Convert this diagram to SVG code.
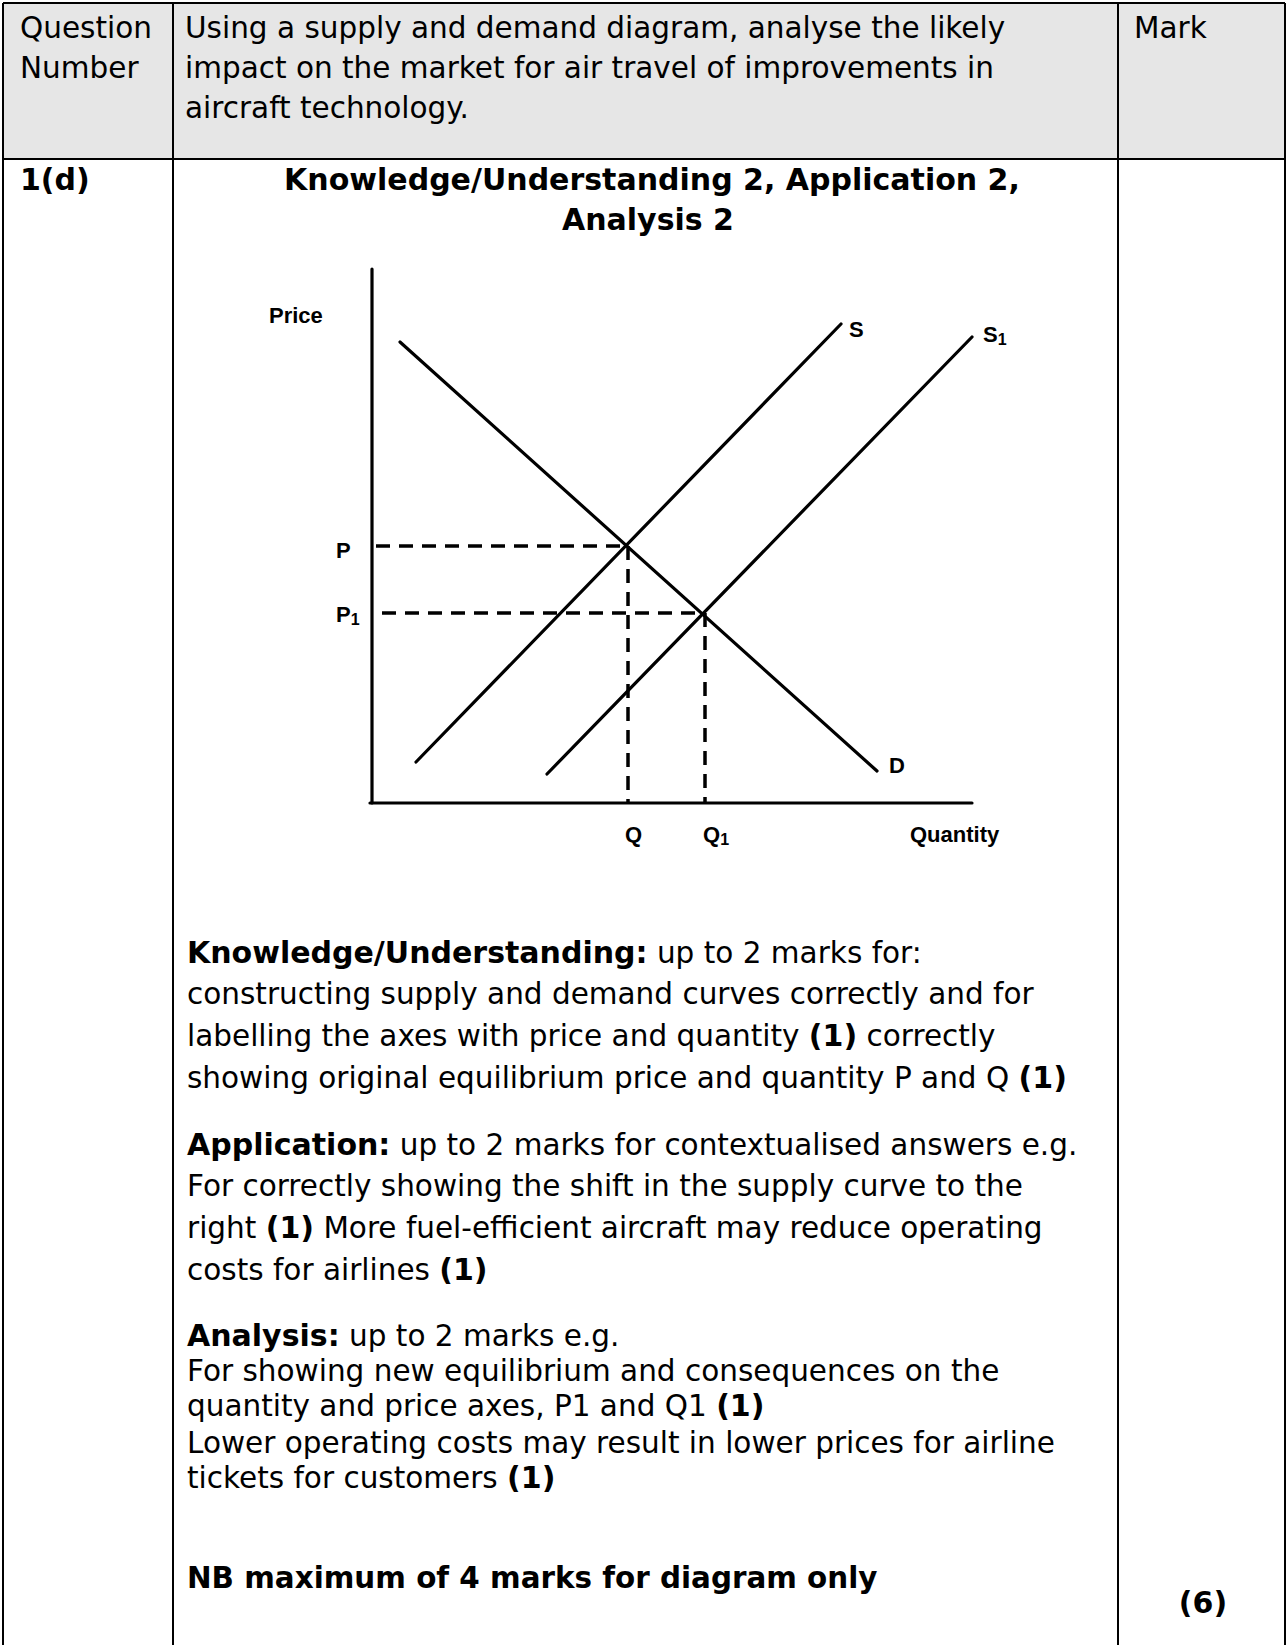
<svg xmlns="http://www.w3.org/2000/svg" width="1287" height="1645" viewBox="0 0 1287 1645">
<style>
.t{font-family:"DejaVu Sans",Verdana,sans-serif;font-size:29.5px;fill:#000}
.b{font-weight:bold;font-size:30px}
.nb{font-weight:bold;font-size:29.4px}
.g{font-family:"Liberation Sans",Arial,sans-serif;font-weight:bold;font-size:22px;fill:#000}
.sub{font-size:16px}
.rule{stroke:#000;stroke-width:2;fill:none}
.curve{stroke:#000;stroke-width:3.2;fill:none;stroke-linecap:round}
.dash{stroke:#000;stroke-width:3.5;fill:none;stroke-dasharray:14 9}
</style>
<rect width="1287" height="1645" fill="#fff"/>
<g id="table">
<rect x="3" y="3" width="1282" height="156" fill="#e6e6e6"/>
<line class="rule" x1="3" y1="3" x2="1285" y2="3"/>
<line class="rule" x1="3" y1="159" x2="1285" y2="159"/>
<line class="rule" x1="3" y1="3" x2="3" y2="1645"/>
<line class="rule" x1="173" y1="3" x2="173" y2="1645"/>
<line class="rule" x1="1118" y1="3" x2="1118" y2="1645"/>
<line class="rule" x1="1285" y1="3" x2="1285" y2="1645"/>
</g>
<g id="header">
<text class="t" x="20" y="38">Question</text>
<text class="t" x="20" y="78">Number</text>
<text class="t" x="185" y="38">Using a supply and demand diagram, analyse the likely</text>
<text class="t" x="185" y="78">impact on the market for air travel of improvements in</text>
<text class="t" x="185" y="118">aircraft technology.</text>
<text class="t" x="1134" y="38">Mark</text>
</g>
<g id="row">
<text class="t b" x="20" y="190">1(d)</text>
<text class="t b" x="652" y="190" text-anchor="middle">Knowledge/Understanding 2, Application 2,</text>
<text class="t b" x="648" y="230" text-anchor="middle">Analysis 2</text>
<text class="t b" x="1203" y="1613" text-anchor="middle">(6)</text>
</g>
<g id="chart">
<g id="axes">
<line class="curve" x1="372" y1="269" x2="372" y2="803" stroke-linecap="butt"/>
<line class="curve" x1="370" y1="803" x2="972" y2="803" stroke-linecap="butt"/>
</g>
<g id="connectors">
<line id="demand" class="curve" x1="400" y1="342" x2="877" y2="771"/>
<line id="supply-s" class="curve" x1="416" y1="762" x2="841" y2="324"/>
<line id="supply-s1" class="curve" x1="547" y1="774" x2="972" y2="337"/>
<line class="dash" x1="376" y1="546" x2="627" y2="546"/>
<line class="dash" x1="382" y1="613" x2="703" y2="613"/>
<line class="dash" x1="628" y1="546" x2="628" y2="803"/>
<line class="dash" x1="705" y1="613" x2="705" y2="803"/>
</g>
<g id="labels">
<text class="g" x="269" y="323">Price</text>
<text class="g" x="336" y="558">P</text>
<text class="g" x="336" y="622">P<tspan class="sub" dy="3">1</tspan></text>
<text class="g" x="849" y="337">S</text>
<text class="g" x="983" y="342">S<tspan class="sub" dy="3">1</tspan></text>
<text class="g" x="889" y="773">D</text>
<text class="g" x="625" y="842">Q</text>
<text class="g" x="703" y="842">Q<tspan class="sub" dy="3">1</tspan></text>
<text class="g" x="910" y="842">Quantity</text>
</g>
</g>
<g id="marking">
<text class="t" x="187" y="963"><tspan class="b">Knowledge/Understanding:</tspan> up to 2 marks for:</text>
<text class="t" x="187" y="1004">constructing supply and demand curves correctly and for</text>
<text class="t" x="187" y="1046">labelling the axes with price and quantity <tspan class="b">(1)</tspan> correctly</text>
<text class="t" x="187" y="1088">showing original equilibrium price and quantity P and Q <tspan class="b">(1)</tspan></text>
<text class="t" x="187" y="1155"><tspan class="b">Application:</tspan> up to 2 marks for contextualised answers e.g.</text>
<text class="t" x="187" y="1196">For correctly showing the shift in the supply curve to the</text>
<text class="t" x="187" y="1238">right <tspan class="b">(1)</tspan> More fuel-efficient aircraft may reduce operating</text>
<text class="t" x="187" y="1280">costs for airlines <tspan class="b">(1)</tspan></text>
<text class="t" x="187" y="1346"><tspan class="b">Analysis:</tspan> up to 2 marks e.g.</text>
<text class="t" x="187" y="1381">For showing new equilibrium and consequences on the</text>
<text class="t" x="187" y="1416">quantity and price axes, P1 and Q1 <tspan class="b">(1)</tspan></text>
<text class="t" x="187" y="1453">Lower operating costs may result in lower prices for airline</text>
<text class="t" x="187" y="1488">tickets for customers <tspan class="b">(1)</tspan></text>
<text class="t nb" x="187" y="1588">NB maximum of 4 marks for diagram only</text>
</g>
</svg>
